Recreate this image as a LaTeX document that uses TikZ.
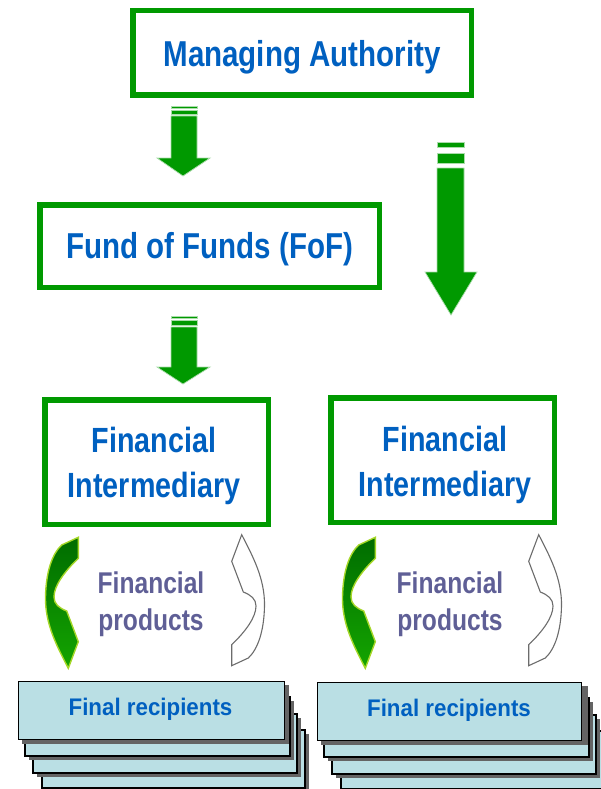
\documentclass[tikz,border=0pt]{standalone}
\usepackage{fontspec}
\newfontfamily\lab[FakeStretch=0.82]{Liberation Sans}
\newfontfamily\labw[FakeStretch=0.93]{Liberation Sans}
\definecolor{boxgreen}{RGB}{0,153,0}
\definecolor{txtblue}{RGB}{0,96,192}
\definecolor{prodcol}{RGB}{95,95,150}
\definecolor{fillblue}{RGB}{186,223,228}
\definecolor{arrline}{RGB}{170,220,170}
\definecolor{gtop}{RGB}{0,108,0}
\definecolor{gbot}{RGB}{20,165,0}
\definecolor{gedge}{RGB}{165,215,40}
\definecolor{shadowgray}{RGB}{100,100,100}
\begin{document}
\begin{tikzpicture}[x=1pt,y=-1pt,
  gbox/.style={draw=boxgreen, line width=5.5pt, fill=white, inner sep=0pt, text=txtblue},
  bigtext/.style={font=\lab\bfseries\fontsize{36}{43}\selectfont},
  fitext/.style={text=txtblue, align=center, inner sep=0pt, font=\lab\bfseries\fontsize{35}{45}\selectfont},
  prodtext/.style={text=prodcol, align=center, inner sep=0pt, font=\lab\bfseries\fontsize{30}{37}\selectfont},
  barrow/.style={fill=boxgreen, draw=arrline, line width=0.7pt},
  garrow/.style={top color=gtop, bottom color=gbot, draw=gedge, line width=1.4pt},
  warrow/.style={fill=white, draw=gray!85!black, line width=1.1pt},
  recbox/.style={fill=fillblue, draw=black, line width=1.6pt},
  recshadow/.style={fill=shadowgray},
  rectext/.style={text=txtblue, inner sep=0pt, font=\labw\bfseries\fontsize{24}{29}\selectfont},
  pics/crvg/.style={code={
    \path[garrow] (61.7,545) -- (78.3,537.3) -- (78.3,558.3)
      .. controls (64,572) and (54,586) .. (54,597)
      .. controls (54,604) and (59,608) .. (66.7,611)
      -- (78.3,641.7) -- (68.3,668.3)
      .. controls (58,648) and (45,625) .. (45.5,597)
      .. controls (46,572) and (52,554) .. cycle;
  }},
  pics/crvw/.style={code={
    \path[warrow] (248.3,658) -- (231.7,665.7) -- (231.7,644.7)
      .. controls (246,631) and (256,617) .. (256,606)
      .. controls (256,599) and (251,595) .. (243.3,592)
      -- (231.7,561.3) -- (241.7,534.7)
      .. controls (252,555) and (265,578) .. (264.5,606)
      .. controls (264,631) and (258,649) .. cycle;
  }},
  pics/stackback/.style={code={
    \fill[recshadow] (46,734) rectangle (309,792);
    \draw[recbox] (42,730) rectangle (305,788);
    \fill[recshadow] (37,718) rectangle (301,777);
    \draw[recbox] (33,714) rectangle (297,773);
    \fill[recshadow] (29,701) rectangle (294,760);
    \draw[recbox] (25,697) rectangle (290,756);
    \fill[recshadow] (22,685) rectangle (289,744);
  }}
]
\useasboundingbox (0,0) rectangle (601,789);

% top boxes
\node[gbox, bigtext, minimum width=338.5pt, minimum height=84.5pt, text height=28pt, text depth=0pt] (ma) at (302,53) {Managing Authority};
\node[gbox, bigtext, minimum width=339.5pt, minimum height=82.5pt, text height=24pt, text depth=0pt] (fof) at (209.5,246) {Fund of Funds (FoF)};

% financial intermediaries
\node[gbox, minimum width=223.5pt, minimum height=124.5pt] (fi1) at (156.5,462) {};
\node[fitext] (fi1t) at (154,465.5) {Financial\\Intermediary};
\node[gbox, minimum width=223.5pt, minimum height=124.5pt] (fi2) at (442.5,460) {};
\node[fitext] (fi2t) at (445,465.3) {Financial\\Intermediary};

% block arrow MA -> FoF
\draw[barrow] (171,106) rectangle (197,108.5);
\draw[barrow] (171,110.5) rectangle (197,114.3);
\draw[barrow] (171,116) -- (197,116) -- (197,158) -- (210,158) -- (183,176) -- (157,158) -- (171,158) -- cycle;

% block arrow FoF -> FI
\draw[barrow] (171,316) rectangle (197,318.3);
\draw[barrow] (171,320.7) rectangle (197,325);
\draw[barrow] (171,327) -- (197,327) -- (197,367) -- (210,367) -- (183,384) -- (157,367) -- (171,367) -- cycle;

% big block arrow MA -> FI (right)
\draw[barrow] (437,142) rectangle (464,147);
\draw[barrow] (437,153) rectangle (464,163);
\draw[barrow] (437,168) -- (464,168) -- (464,272) -- (477,272) -- (451,315) -- (425,272) -- (437,272) -- cycle;

% curved arrows and product texts, left
\pic {crvg};
\pic {crvw};
\node[prodtext] (fp1) at (151,604) {Financial\\products};

% curved arrows and product texts, right
\begin{scope}[shift={(297,0)}]
  \pic {crvg};
  \pic {crvw};
\end{scope}
\node[prodtext] (fp2) at (450,604) {Financial\\products};

% final recipients stacks
\pic {stackback};
\node[recbox, minimum width=266pt, minimum height=58pt, inner sep=0pt] (fr1) at (151.5,710.5) {};
\node[rectext] (fr1t) at (150.5,709) {Final recipients};

\begin{scope}[shift={(299,1)}]
  \pic {stackback};
\end{scope}
\node[recbox, minimum width=264pt, minimum height=58pt, inner sep=0pt] (fr2) at (449.5,711.5) {};
\node[rectext] (fr2t) at (449,710) {Final recipients};
\end{tikzpicture}
\end{document}
